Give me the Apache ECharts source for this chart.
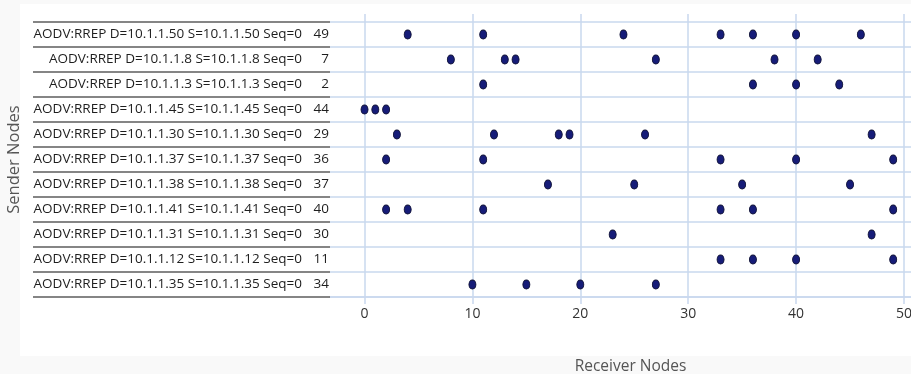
<!DOCTYPE html>
<html>
<head>
<meta charset="utf-8">
<script src="https://cdn.jsdelivr.net/npm/echarts@6/dist/echarts.min.js"></script>
<style>
  html, body { margin: 0; padding: 0; background: #f9f9f9; }
  #chart { width: 911px; height: 374px; }
</style>
</head>
<body>
<div id="chart"></div>
<script>
// RREP messages sent by each node, top row first
const messages = [
  'AODV:RREP D=10.1.1.50 S=10.1.1.50 Seq=0',
  'AODV:RREP D=10.1.1.8 S=10.1.1.8 Seq=0',
  'AODV:RREP D=10.1.1.3 S=10.1.1.3 Seq=0',
  'AODV:RREP D=10.1.1.45 S=10.1.1.45 Seq=0',
  'AODV:RREP D=10.1.1.30 S=10.1.1.30 Seq=0',
  'AODV:RREP D=10.1.1.37 S=10.1.1.37 Seq=0',
  'AODV:RREP D=10.1.1.38 S=10.1.1.38 Seq=0',
  'AODV:RREP D=10.1.1.41 S=10.1.1.41 Seq=0',
  'AODV:RREP D=10.1.1.31 S=10.1.1.31 Seq=0',
  'AODV:RREP D=10.1.1.12 S=10.1.1.12 Seq=0',
  'AODV:RREP D=10.1.1.35 S=10.1.1.35 Seq=0'
];
const senderIds = [49, 7, 2, 44, 29, 36, 37, 40, 30, 11, 34];

// receiver nodes reached by each sender's message
const recv49 = [4, 11, 24, 33, 36, 40, 46];
const recv7  = [8, 13, 14, 27, 38, 42];
const recv2  = [11, 36, 40, 44];
const recv44 = [0, 1, 2];
const recv29 = [3, 12, 18, 19, 26, 47];
const recv36 = [2, 11, 33, 40, 49];
const recv37 = [17, 25, 35, 45];
const recv40 = [2, 4, 11, 33, 36, 49];
const recv30 = [23, 47];
const recv11 = [33, 36, 40, 49];
const recv34 = [10, 15, 20, 27];
const receivers = [recv49, recv7, recv2, recv44, recv29, recv36, recv37, recv40, recv30, recv11, recv34];

const xTicks = [0, 10, 20, 30, 40, 50];

const categories = messages.map((m, i) => m + '|' + senderIds[i]);
const points = [];
receivers.forEach((list, row) => {
  list.forEach(r => points.push([r, categories[row]]));
});

const X_MIN = -3.2, X_MAX = 50.65;
const gridBlue = '#c9d8ee';
const labelFont = 'Open Sans';

const chart = echarts.init(document.getElementById('chart'), null, { renderer: 'canvas' });
chart.setOption({
  backgroundColor: '#f9f9f9',
  animation: false,
  graphic: [{
    type: 'rect',
    silent: true,
    z: -10,
    shape: { x: 20, y: 4, width: 891, height: 352 },
    style: { fill: '#ffffff' }
  }],
  grid: { left: 330, right: 0, top: 22, height: 275, containLabel: false, outerBoundsMode: 'none' },
  xAxis: [{
    type: 'value',
    min: X_MIN,
    max: X_MAX,
    position: 'bottom',
    name: 'Receiver Nodes',
    nameLocation: 'middle',
    nameGap: 62,
    nameTextStyle: { fontFamily: labelFont, fontSize: 15.5, color: '#555', padding: [0, 0, 0, 20] },
    axisLine: { show: true, onZero: false, lineStyle: { color: gridBlue, width: 1.5 } },
    axisTick: { show: true, length: 7, customValues: xTicks, lineStyle: { color: gridBlue, width: 1.5 } },
    axisLabel: { customValues: xTicks, margin: 10, fontFamily: labelFont, fontSize: 14, color: '#333' },
    splitLine: { show: true, lineStyle: { color: gridBlue, width: 1.5 } }
  }, {
    type: 'value',
    min: X_MIN,
    max: X_MAX,
    position: 'top',
    axisLine: { show: false, onZero: false },
    axisTick: { show: true, length: 8, customValues: xTicks, lineStyle: { color: gridBlue, width: 1.5 } },
    axisLabel: { show: false },
    splitLine: { show: false }
  }],
  yAxis: {
    type: 'category',
    data: categories,
    inverse: true,
    name: 'Sender Nodes',
    nameLocation: 'middle',
    nameGap: 297,
    nameRotate: 90,
    nameTextStyle: { fontFamily: labelFont, fontSize: 16.5, color: '#555' },
    axisLine: { show: false, onZero: false },
    axisTick: { show: true, length: 297, alignWithLabel: false, lineStyle: { color: '#5c5c5c', width: 1.6 } },
    splitLine: { show: true, lineStyle: { color: gridBlue, width: 1.5 } },
    axisLabel: {
      margin: 1,
      formatter: v => {
        const [msg, id] = v.split('|');
        return '{t|' + msg + '}{n|' + id + '}';
      },
      rich: {
        t: { fontFamily: labelFont, fontSize: 13.5, color: '#1e1e1e' },
        n: { fontFamily: labelFont, fontSize: 13.5, color: '#1e1e1e', width: 27, align: 'right' }
      }
    }
  },
  series: [{
    type: 'scatter',
    xAxisIndex: 0,
    data: points,
    symbol: 'circle',
    symbolSize: [7, 9],
    itemStyle: { color: '#161c78', borderColor: '#101235', borderWidth: 1, opacity: 1 }
  }]
});
</script>
</body>
</html>
